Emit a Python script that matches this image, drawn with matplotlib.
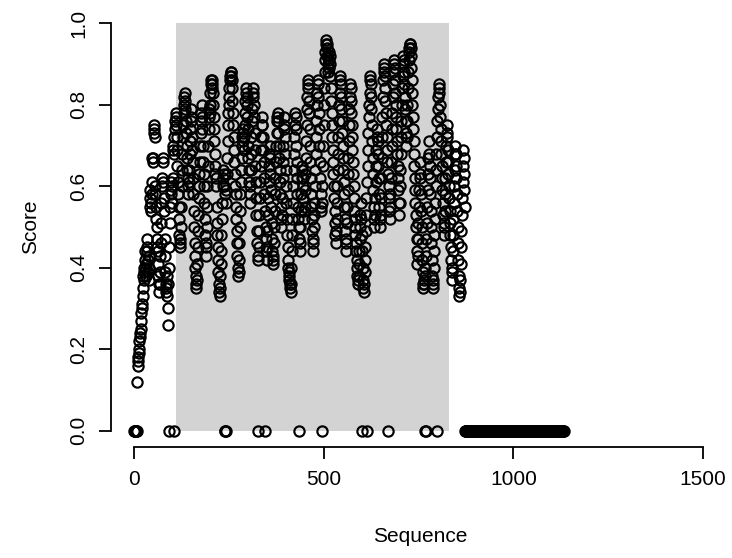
import numpy as np
from matplotlib import pyplot as plt
from matplotlib.patches import Rectangle

plt.rcParams['font.family'] = ['Liberation Sans', 'DejaVu Sans']

# score per sequence position 1..872 (24 positions a row)
score_head = [
    0.00, 0.00, 0.00, 0.00, 0.00, 0.00, 0.00, 0.00,
    0.12, 0.17, 0.16, 0.18, 0.20, 0.19, 0.22, 0.24, 0.23, 0.25, 0.27, 0.29, 0.31, 0.30, 0.33, 0.35, 0.38, 0.40, 0.37, 0.39, 0.42, 0.44, 0.41, 0.38,
    0.40, 0.44, 0.47, 0.45, 0.42, 0.39, 0.37, 0.40, 0.43, 0.55, 0.57, 0.59, 0.56, 0.54, 0.58, 0.61, 0.67, 0.67, 0.66, 0.73, 0.75, 0.74, 0.72, 0.60,
    0.58, 0.55, 0.52, 0.50, 0.47, 0.45, 0.44, 0.41, 0.38, 0.36, 0.34, 0.36, 0.39, 0.43, 0.46, 0.51, 0.56, 0.60, 0.62, 0.67, 0.66, 0.61, 0.57, 0.54,
    0.47, 0.43, 0.39, 0.36, 0.34, 0.35, 0.38, 0.33, 0.26, 0.30, 0.36, 0.00, 0.40, 0.45, 0.51, 0.55, 0.59, 0.61, 0.58, 0.56, 0.60, 0.62, 0.69, 0.70,
    0.68, 0.72, 0.00, 0.74, 0.76, 0.78, 0.77, 0.75, 0.72, 0.69, 0.65, 0.61, 0.58, 0.55, 0.52, 0.48, 0.46, 0.45, 0.47, 0.50, 0.55, 0.60, 0.64, 0.68,
    0.72, 0.75, 0.78, 0.80, 0.82, 0.83, 0.81, 0.79, 0.76, 0.73, 0.70, 0.67, 0.64, 0.62, 0.60, 0.58, 0.61, 0.64, 0.68, 0.71, 0.74, 0.77, 0.79, 0.76,
    0.72, 0.69, 0.66, 0.62, 0.58, 0.54, 0.50, 0.46, 0.43, 0.40, 0.38, 0.36, 0.35, 0.37, 0.41, 0.45, 0.49, 0.53, 0.57, 0.60, 0.63, 0.66, 0.70, 0.73,
    0.76, 0.78, 0.80, 0.77, 0.74, 0.70, 0.66, 0.63, 0.60, 0.56, 0.52, 0.48, 0.45, 0.43, 0.46, 0.50, 0.55, 0.60, 0.65, 0.70, 0.74, 0.77, 0.79, 0.78,
    0.80, 0.83, 0.85, 0.86, 0.86, 0.84, 0.85, 0.83, 0.80, 0.77, 0.74, 0.71, 0.68, 0.65, 0.63, 0.62, 0.60, 0.55, 0.51, 0.48, 0.45, 0.42, 0.39, 0.36,
    0.34, 0.33, 0.35, 0.38, 0.41, 0.44, 0.48, 0.52, 0.56, 0.60, 0.62, 0.64, 0.63, 0.60, 0.58, 0.00, 0.00, 0.00, 0.56, 0.59, 0.63, 0.67, 0.71, 0.75,
    0.78, 0.80, 0.82, 0.84, 0.86, 0.87, 0.88, 0.87, 0.88, 0.86, 0.84, 0.81, 0.78, 0.75, 0.72, 0.69, 0.66, 0.63, 0.60, 0.58, 0.55, 0.52, 0.49, 0.46,
    0.43, 0.40, 0.38, 0.39, 0.42, 0.46, 0.50, 0.54, 0.58, 0.61, 0.64, 0.67, 0.70, 0.72, 0.74, 0.73, 0.71, 0.69, 0.72, 0.75, 0.78, 0.81, 0.83, 0.84,
    0.82, 0.80, 0.77, 0.74, 0.70, 0.67, 0.64, 0.61, 0.58, 0.56, 0.60, 0.64, 0.68, 0.72, 0.76, 0.79, 0.82, 0.84, 0.83, 0.80, 0.77, 0.73, 0.69, 0.65,
    0.61, 0.57, 0.53, 0.49, 0.46, 0.43, 0.00, 0.42, 0.45, 0.49, 0.53, 0.57, 0.61, 0.65, 0.69, 0.72, 0.75, 0.77, 0.75, 0.72, 0.69, 0.66, 0.62, 0.58,
    0.54, 0.00, 0.50, 0.47, 0.44, 0.42, 0.45, 0.49, 0.53, 0.57, 0.61, 0.65, 0.68, 0.70, 0.67, 0.63, 0.59, 0.55, 0.51, 0.47, 0.44, 0.42, 0.41, 0.43,
    0.46, 0.50, 0.54, 0.58, 0.62, 0.66, 0.70, 0.73, 0.76, 0.77, 0.78, 0.76, 0.73, 0.70, 0.67, 0.64, 0.61, 0.58, 0.55, 0.52, 0.50, 0.53, 0.57, 0.62,
    0.66, 0.70, 0.74, 0.77, 0.75, 0.72, 0.68, 0.64, 0.60, 0.56, 0.52, 0.48, 0.45, 0.42, 0.40, 0.38, 0.37, 0.39, 0.36, 0.35, 0.34, 0.36, 0.40, 0.44,
    0.48, 0.52, 0.56, 0.60, 0.64, 0.68, 0.72, 0.75, 0.78, 0.77, 0.74, 0.70, 0.66, 0.62, 0.58, 0.55, 0.52, 0.00, 0.50, 0.47, 0.44, 0.46, 0.50, 0.54,
    0.58, 0.62, 0.65, 0.64, 0.62, 0.60, 0.57, 0.54, 0.52, 0.55, 0.59, 0.63, 0.67, 0.71, 0.75, 0.79, 0.82, 0.85, 0.86, 0.84, 0.81, 0.78, 0.74, 0.70,
    0.66, 0.62, 0.58, 0.55, 0.52, 0.49, 0.46, 0.44, 0.47, 0.50, 0.53, 0.56, 0.60, 0.64, 0.68, 0.72, 0.76, 0.80, 0.83, 0.86, 0.85, 0.82, 0.78, 0.74,
    0.70, 0.66, 0.62, 0.58, 0.54, 0.55, 0.00, 0.56, 0.60, 0.65, 0.70, 0.75, 0.80, 0.84, 0.88, 0.91, 0.93, 0.95, 0.96, 0.95, 0.94, 0.92, 0.90, 0.88,
    0.89, 0.91, 0.93, 0.92, 0.90, 0.87, 0.84, 0.81, 0.78, 0.75, 0.72, 0.69, 0.66, 0.63, 0.60, 0.57, 0.54, 0.51, 0.48, 0.46, 0.49, 0.52, 0.56, 0.60,
    0.64, 0.68, 0.72, 0.76, 0.80, 0.83, 0.86, 0.87, 0.85, 0.82, 0.79, 0.76, 0.73, 0.70, 0.67, 0.64, 0.61, 0.58, 0.55, 0.52, 0.49, 0.46, 0.44, 0.47,
    0.51, 0.55, 0.59, 0.63, 0.67, 0.71, 0.75, 0.79, 0.82, 0.85, 0.84, 0.81, 0.78, 0.75, 0.72, 0.69, 0.66, 0.63, 0.60, 0.57, 0.54, 0.52, 0.50, 0.48,
    0.46, 0.44, 0.42, 0.40, 0.38, 0.37, 0.36, 0.38, 0.41, 0.44, 0.47, 0.50, 0.53, 0.56, 0.52, 0.48, 0.00, 0.44, 0.40, 0.37, 0.35, 0.34, 0.36, 0.39,
    0.42, 0.45, 0.49, 0.53, 0.57, 0.00, 0.61, 0.65, 0.69, 0.73, 0.77, 0.80, 0.83, 0.86, 0.87, 0.85, 0.82, 0.79, 0.75, 0.71, 0.67, 0.63, 0.59, 0.55,
    0.52, 0.50, 0.53, 0.57, 0.61, 0.65, 0.69, 0.72, 0.74, 0.71, 0.68, 0.65, 0.62, 0.58, 0.55, 0.52, 0.50, 0.53, 0.57, 0.62, 0.67, 0.72, 0.77, 0.82,
    0.86, 0.88, 0.90, 0.89, 0.87, 0.84, 0.81, 0.78, 0.75, 0.72, 0.69, 0.66, 0.63, 0.00, 0.60, 0.57, 0.54, 0.52, 0.55, 0.58, 0.62, 0.66, 0.70, 0.74,
    0.78, 0.82, 0.85, 0.88, 0.90, 0.91, 0.89, 0.86, 0.83, 0.80, 0.77, 0.74, 0.71, 0.68, 0.65, 0.62, 0.59, 0.56, 0.53, 0.56, 0.60, 0.64, 0.68, 0.72,
    0.76, 0.80, 0.84, 0.87, 0.90, 0.92, 0.91, 0.88, 0.85, 0.82, 0.79, 0.76, 0.73, 0.70, 0.72, 0.76, 0.80, 0.84, 0.88, 0.91, 0.93, 0.94, 0.95, 0.95,
    0.94, 0.92, 0.89, 0.86, 0.83, 0.80, 0.77, 0.74, 0.71, 0.68, 0.65, 0.62, 0.59, 0.56, 0.53, 0.50, 0.47, 0.44, 0.41, 0.43, 0.47, 0.51, 0.55, 0.59,
    0.63, 0.66, 0.62, 0.58, 0.54, 0.50, 0.46, 0.42, 0.39, 0.36, 0.35, 0.37, 0.36, 0.38, 0.00, 0.40, 0.00, 0.43, 0.47, 0.51, 0.55, 0.59, 0.63, 0.67,
    0.71, 0.68, 0.65, 0.62, 0.58, 0.54, 0.50, 0.46, 0.42, 0.38, 0.36, 0.35, 0.37, 0.40, 0.44, 0.48, 0.52, 0.56, 0.60, 0.64, 0.68, 0.72, 0.00, 0.76,
    0.79, 0.82, 0.84, 0.85, 0.83, 0.80, 0.77, 0.74, 0.71, 0.68, 0.65, 0.62, 0.59, 0.56, 0.53, 0.50, 0.48, 0.51, 0.54, 0.58, 0.62, 0.66, 0.70, 0.73,
    0.75, 0.72, 0.69, 0.66, 0.63, 0.60, 0.57, 0.54, 0.51, 0.48, 0.45, 0.42, 0.39, 0.37, 0.40, 0.44, 0.48, 0.52, 0.56, 0.60, 0.64, 0.68, 0.70, 0.68,
    0.65, 0.62, 0.58, 0.54, 0.50, 0.46, 0.42, 0.38, 0.35, 0.33, 0.34, 0.37, 0.41, 0.45, 0.49, 0.53, 0.57, 0.61, 0.65, 0.69, 0.67, 0.63, 0.59, 0.55,
]

# the tail of the sequence scores zero all the way
tail_first, tail_last = 873, 1132

# shaded region (sequence positions)
region_start, region_end = 112, 830

x_ticks = [0, 500, 1000, 1500]
y_ticks = [0.0, 0.2, 0.4, 0.6, 0.8, 1.0]
y_labels = ['0.0', '0.2', '0.4', '0.6', '0.8', '1.0']

seq = np.concatenate([np.arange(1, len(score_head) + 1), np.arange(tail_first, tail_last + 1)])
score = np.concatenate([np.array(score_head), np.zeros(tail_last - tail_first + 1)])

W, H = 732, 558
fig = plt.figure(figsize=(W / 100, H / 100), dpi=100)
ax = fig.add_axes([111 / W, 1 - 447 / H, (726 - 111) / W, (447 - 7) / H])

ax.add_patch(Rectangle((region_start, 0), region_end - region_start, 1,
                       facecolor='#d3d3d3', edgecolor='none', zorder=0))
ax.plot(seq, score, 'o', mfc='none', mec='black', ms=7.4, mew=1.55, zorder=2)

ax.set_xlim(-60, 1560)
ax.set_ylim(-0.04, 1.04)

for s in ['top', 'right']:
    ax.spines[s].set_visible(False)
ax.spines['bottom'].set_bounds(0, 1500)
ax.spines['left'].set_bounds(0, 1)
for s in ['bottom', 'left']:
    ax.spines[s].set_linewidth(1.3)

ax.set_xticks(x_ticks)
ax.set_xticklabels([str(t) for t in x_ticks])
ax.set_yticks(y_ticks)
ax.set_yticklabels(y_labels, rotation=90, va='center')
ax.tick_params(axis='both', direction='out', length=8.5, width=1.3,
               labelsize=15, pad=8)

fig.text(420 / W, 1 - 537 / H, 'Sequence', ha='center', va='center', fontsize=15)
fig.text(31 / W, 1 - 227 / H, 'Score', ha='center', va='center', rotation=90, fontsize=15)

fig.savefig('out.png', dpi=100)
